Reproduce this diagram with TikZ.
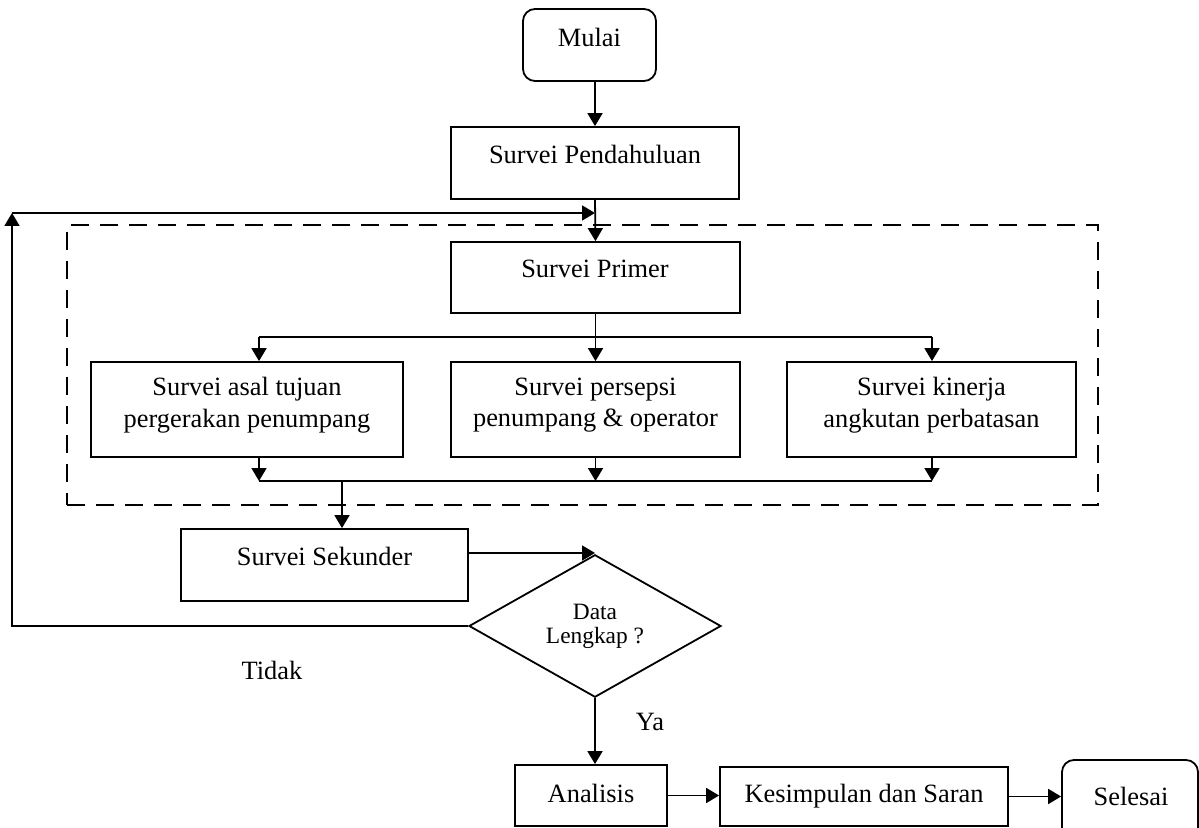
\documentclass[tikz,border=0pt]{standalone}
\usepackage{fontspec}
\setmainfont{Liberation Serif}
\usetikzlibrary{arrows.meta,shapes.geometric,fit}
\begin{document}
\begin{tikzpicture}[x=0.5pt,y=-0.5pt,
  box/.style={draw, line width=0.9pt, inner sep=0pt},
  rbox/.style={box, rounded corners=6pt},
  txt/.style={font=\fontsize{13.2}{15.8}\selectfont, inner sep=0pt, align=center},
  arr/.style={line width=0.9pt, -{Triangle[length=6.5pt,width=7.5pt]}},
  ln/.style={line width=0.9pt},
  dashbox/.style={draw, line width=1.3pt, dash pattern=on 9pt off 5.5pt, inner sep=0pt}]
\clip (0,0) rectangle (1199,828);
% nodes
\node[rbox, fit={(523,9)(656,81)}] (mulai) {};
\node[txt, anchor=base] (tmulai) at (589.5,47) {Mulai};
\node[box, fit={(451,127)(739,199)}] (pend) {};
\node[txt, anchor=base] (tpend) at (595,164) {Survei Pendahuluan};
\node[dashbox, fit={(67,225)(1098,505)}] (grp) {};
\node[box, fit={(451,242)(740,313)}] (prim) {};
\node[txt, anchor=base] (tprim) at (595,278) {Survei Primer};
\node[box, fit={(91,362)(403,457)}] (b1) {};
\node[box, fit={(451,362)(740,457)}] (b2) {};
\node[box, fit={(787,362)(1076,457)}] (b3) {};
\node[txt] (tb1) at (247,405) {Survei asal tujuan\\pergerakan penumpang};
\node[txt] (tb2) at (595.5,405) {Survei persepsi\\penumpang \& operator};
\node[txt] (tb3) at (931.5,405) {Survei kinerja\\angkutan perbatasan};
\node[box, fit={(181,529)(468,601)}] (sek) {};
\node[txt, anchor=base] (tsek) at (324.5,565) {Survei Sekunder};
\node[diamond, draw, line width=0.9pt, inner sep=0pt, minimum width=126pt, minimum height=67pt,
      font=\fontsize{11.7}{12}\selectfont, align=center] (dec) at (595,626) {Data\\Lengkap ?};
\node[txt, anchor=base] (tidak) at (272,679) {Tidak};
\node[txt, anchor=base] (ya) at (650,730) {Ya};
\node[box, fit={(515,765)(667,826)}] (an) {};
\node[txt, anchor=base] (tan) at (591,802) {Analisis};
\node[box, fit={(720,767)(1008,826)}] (kes) {};
\node[txt, anchor=base] (tkes) at (864,802) {Kesimpulan dan Saran};
\node[rbox, fit={(1062,760)(1198,840)}] (sel) {};
\node[txt, anchor=base] (tsel) at (1131,805) {Selesai};
% connectors
\draw[arr] (mulai.south -| pend.north) -- (pend.north);
\draw[arr] (pend.south) -- (prim.north);
\coordinate (fb) at (12,213);
\draw[arr] (dec.west) -| (fb);
\draw[arr] (fb) -- (fb -| pend.south);
\coordinate (lb) at (259,337);
\coordinate (rb) at (932,337);
\draw[ln] (lb) -- (rb);
\draw[arr] (prim.south) -- (b2.north);
\draw[arr] (lb) -- (lb |- b1.north);
\draw[arr] (rb) -- (rb |- b3.north);
\coordinate (ml) at (259,481);
\coordinate (mr) at (932,481);
\coordinate (mj) at (342,481);
\draw[ln] (ml) -- (mr);
\draw[arr] (b1.south -| ml) -- (ml);
\draw[arr] (b2.south) -- (b2.south |- ml);
\draw[arr] (b3.south -| mr) -- (mr);
\draw[arr] (mj) -- (mj |- sek.north);
\coordinate (sa) at (595,553);
\draw[arr] (sa -| sek.east) -- (sa);
\draw[arr] (dec.south) -- (dec.south |- an.north);
\draw[arr] (an.east) -- (an.east -| kes.west);
\draw[arr] (kes.east) -- (kes.east -| sel.west);
\end{tikzpicture}
\end{document}
